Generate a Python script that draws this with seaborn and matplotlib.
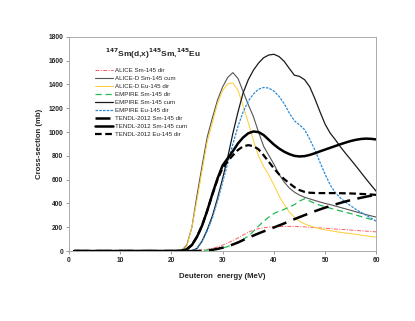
import numpy as np
import pandas as pd
import matplotlib
matplotlib.use('Agg')
import matplotlib.pyplot as plt
import seaborn as sns

# Energia (MeV): 1, 20, 21, ..., 60
energy = [1] + list(range(20, 61))

alice_sm_dir = [0, 0, 0, 0, 0, 2, 5, 8, 14, 22, 35, 50, 68, 88, 110, 135, 158, 175, 188,
                196, 201, 204, 206, 207, 207, 206, 205, 203, 200, 197, 194, 191, 188,
                185, 182, 179, 176, 173, 170, 167, 164, 161]
alice_d_sm_cum = [0, 0, 0, 5, 50, 200, 470, 720, 960, 1120, 1270, 1380, 1460, 1500, 1450,
                  1340, 1230, 1130, 1000, 880, 805, 730, 645, 580, 530, 495, 470, 452, 438,
                  425, 412, 400, 390, 378, 366, 354, 342, 330, 318, 306, 295, 285]
alice_d_eu_dir = [0, 0, 0, 5, 40, 200, 430, 680, 920, 1080, 1240, 1350, 1405, 1415, 1350,
                  1220, 1080, 930, 800, 710, 640, 555, 465, 390, 328, 285, 250, 228, 212,
                  198, 187, 178, 171, 164, 157, 151, 146, 140, 134, 128, 122, 116]
empire_sm_dir = [0, 0, 0, 0, 0, 0, 2, 5, 8, 12, 18, 25, 38, 55, 75, 98, 125, 165, 210, 250,
                 285, 315, 335, 350, 370, 390, 420, 440, 420, 400, 385, 372, 360, 348, 337,
                 326, 315, 302, 290, 278, 266, 255]
empire_sm_cum = [0, 0, 0, 0, 0, 3, 22, 85, 180, 295, 445, 610, 790, 990, 1170, 1330, 1440,
                 1520, 1580, 1625, 1648, 1654, 1635, 1595, 1535, 1478, 1468, 1440, 1380,
                 1280, 1170, 1065, 990, 935, 875, 820, 768, 715, 660, 605, 552, 500]
empire_eu_dir = [0, 0, 0, 0, 0, 3, 20, 80, 170, 280, 420, 580, 740, 900, 1050, 1170, 1260,
                 1320, 1360, 1375, 1370, 1345, 1300, 1240, 1160, 1095, 1060, 1020, 940, 850,
                 745, 645, 555, 490, 445, 410, 380, 350, 325, 300, 275, 250]
tendl_sm_dir = [0, 0, 0, 0, 0, 0, 0, 2, 5, 10, 18, 28, 40, 55, 72, 92, 112, 130, 148, 165,
                182, 198, 215, 232, 250, 268, 285, 302, 318, 335, 350, 365, 378, 392, 405,
                417, 428, 438, 448, 457, 465, 472]
tendl_sm_cum = [0, 0, 0, 3, 15, 50, 120, 215, 340, 480, 610, 720, 780, 840, 905, 955, 990,
                1005, 1000, 975, 935, 895, 862, 835, 815, 800, 795, 798, 808, 822, 838, 853,
                868, 883, 898, 912, 925, 935, 942, 945, 943, 938]
tendl_eu_dir = [0, 0, 0, 3, 15, 50, 120, 215, 340, 475, 600, 700, 755, 805, 850, 880, 890,
                882, 855, 805, 750, 695, 645, 605, 570, 537, 512, 497, 490, 488, 487, 487,
                487, 487, 486, 485, 484, 482, 480, 478, 475, 472]

labels = ['ALICE Sm-145 dir', 'ALICE-D Sm-145 cum', 'ALICE-D Eu-145 dir',
          'EMPIRE Sm-145 dir', 'EMPIRE Sm-145 cum', 'EMPIRE Eu-145 dir',
          'TENDL-2012 Sm-145 dir', 'TENDL-2012 Sm-145 cum', 'TENDL-2012 Eu-145 dir']
series = [alice_sm_dir, alice_d_sm_cum, alice_d_eu_dir,
          empire_sm_dir, empire_sm_cum, empire_eu_dir,
          tendl_sm_dir, tendl_sm_cum, tendl_eu_dir]

# estilo de cada curva: cor, espessura, tracejado
estilos = [
    ('#ff5b5b', 0.7, (0, (4, 1.5, 1, 1.5))),
    ('#555555', 0.8, '-'),
    ('#ffcc33', 0.7, '-'),
    ('#22bb55', 0.9, (0, (5, 3))),
    ('#1a1a1a', 0.9, '-'),
    ('#2a8ad8', 0.9, (0, (2, 1))),
    ('black', 1.8, (0, (6, 3))),
    ('black', 1.8, '-'),
    ('black', 1.6, (0, (3, 1.6))),
]

sns.set_style('white')
plt.rcParams['font.family'] = ['Liberation Sans', 'DejaVu Sans']

fig = plt.figure(figsize=(4.15, 3.21), dpi=100)
ax = fig.add_axes([0.166, 0.218, 0.741, 0.667])

for lab, y, (cor, lw, ls) in zip(labels, series, estilos):
    sns.lineplot(x=energy, y=y, ax=ax, label=lab, color=cor, linewidth=lw,
                 linestyle=ls)

ax.set_xlim(0, 60)
ax.set_ylim(0, 1800)
ax.set_xticks(range(0, 61, 10))
ax.set_yticks(range(0, 1801, 200))
ax.tick_params(axis='both', labelsize=4.8, length=2, width=0.6, pad=2,
               direction='out', bottom=True, left=True, color='#888888')
for t in ax.get_xticklabels() + ax.get_yticklabels():
    t.set_fontweight('bold')
for s in ax.spines.values():
    s.set_color('#aaaaaa')
    s.set_linewidth(0.7)

ax.set_xlabel('Deuteron  energy (MeV)', fontsize=5.6, fontweight='bold', labelpad=7)
ax.set_ylabel('Cross-section (mb)', fontsize=5.6, fontweight='bold', labelpad=4)

ax.text(0.117, 0.92, r'$^{\mathbf{147}}$Sm(d,x)$^{\mathbf{145}}$Sm,$^{\mathbf{145}}$Eu',
        transform=ax.transAxes, fontsize=6, fontweight='bold', va='center')

ax.legend(loc='upper left', bbox_to_anchor=(0.085, 0.855), frameon=False,
          fontsize=4.4, handlelength=3.0, handletextpad=0.2, labelspacing=0.45,
          borderpad=0, borderaxespad=0)

plt.savefig('out.png', dpi=100)
